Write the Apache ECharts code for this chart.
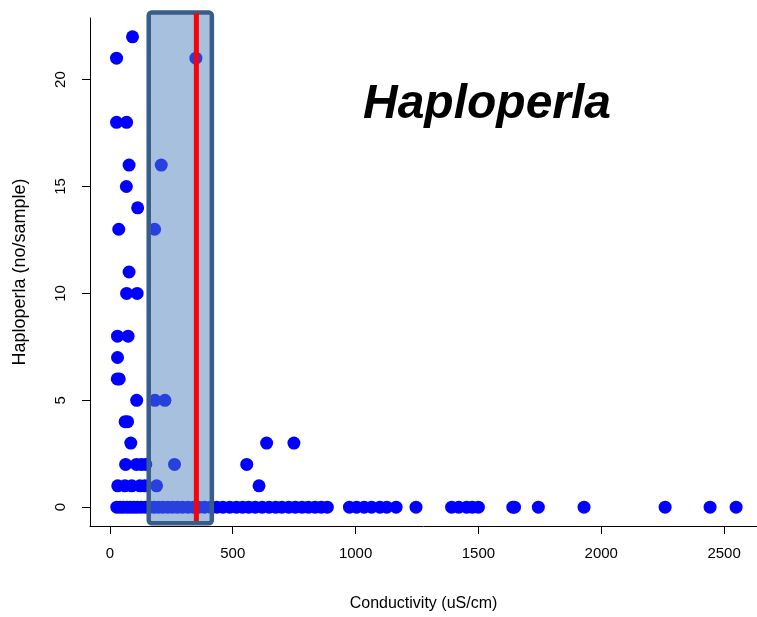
<!DOCTYPE html>
<html>
<head>
<meta charset="utf-8">
<script src="https://cdn.jsdelivr.net/npm/echarts@6/dist/echarts.min.js"></script>
<style>
  html, body { margin: 0; padding: 0; background: #fff; }
  #chart { width: 757px; height: 617px; }
</style>
</head>
<body>
<div id="chart"></div>
<script>
// conductivity (uS/cm) and Haploperla count per sample
var conductivity = [
  92,
  27, 350,
  27, 68,
  78, 209,
  67,
  113,
  36, 182,
  78,
  68, 111,
  31, 74,
  31,
  30, 38,
  109, 183, 224,
  62, 72,
  85, 638, 749,
  64, 108, 128, 146, 263, 557,
  32, 61, 89, 122, 142, 190, 607,
  // zero counts
  28, 42, 55, 70, 84, 98, 112, 128, 145, 162, 180, 198, 216, 236, 255, 275,
  295, 318, 340, 362, 385, 410, 435, 460, 488, 515, 540, 565, 592, 620, 648,
  675, 700, 728, 755, 782, 808, 835, 860, 885,
  975, 1004, 1035, 1065, 1099, 1127, 1165, 1246,
  1391, 1420, 1452, 1475, 1500, 1640, 1647, 1744, 1930, 2260, 2443, 2549
];
var counts = [
  22,
  21, 21,
  18, 18,
  16, 16,
  15,
  14,
  13, 13,
  11,
  10, 10,
  8, 8,
  7,
  6, 6,
  5, 5, 5,
  4, 4,
  3, 3, 3,
  2, 2, 2, 2, 2, 2,
  1, 1, 1, 1, 1, 1, 1,
  0, 0, 0, 0, 0, 0, 0, 0, 0, 0, 0, 0, 0, 0, 0, 0,
  0, 0, 0, 0, 0, 0, 0, 0, 0, 0, 0, 0, 0, 0, 0,
  0, 0, 0, 0, 0, 0, 0, 0, 0, 0,
  0, 0, 0, 0, 0, 0, 0, 0,
  0, 0, 0, 0, 0, 0, 0, 0, 0, 0, 0, 0
];
var xTicks = [0, 500, 1000, 1500, 2000, 2500];
var yTicks = [0, 5, 10, 15, 20];
// shaded range and the red marker
var rangeLow = 158, rangeHigh = 415;
var markerValue = 352;

var points = conductivity.map(function (c, i) { return [c, counts[i]]; });

var chart = echarts.init(document.getElementById('chart'));
var font = 'Liberation Sans, Arial, sans-serif';

var option = {
  animation: false,
  title: {
    text: 'Haploperla',
    left: 358,
    top: 76,
    textStyle: {
      fontFamily: font,
      fontSize: 48,
      fontWeight: 'bold',
      fontStyle: 'italic',
      color: '#000'
    }
  },
  grid: { left: 90, right: 0, top: 18, bottom: 90 },
  xAxis: {
    type: 'value',
    min: -81,
    max: 2634,
    name: 'Conductivity (uS/cm)',
    nameLocation: 'middle',
    nameGap: 70,
    nameTextStyle: { fontFamily: font, fontSize: 16, color: '#000' },
    axisLine: { onZero: false, lineStyle: { color: '#000', width: 1 } },
    axisTick: { show: true, length: 8, customValues: xTicks, lineStyle: { color: '#000' } },
    axisLabel: {
      customValues: xTicks, margin: 20, fontFamily: font, fontSize: 15, color: '#000',
      formatter: function (v) { return String(v); }
    },
    splitLine: { show: false }
  },
  yAxis: {
    type: 'value',
    min: -0.88,
    max: 22.88,
    name: 'Haploperla (no/sample)',
    nameLocation: 'middle',
    nameGap: 61,
    nameRotate: 90,
    nameTextStyle: { fontFamily: font, fontSize: 18, color: '#000' },
    axisLine: { show: true, onZero: false, lineStyle: { color: '#000', width: 1 } },
    axisTick: { show: true, length: 8, customValues: yTicks, lineStyle: { color: '#000' } },
    axisLabel: {
      customValues: yTicks, rotate: 90, margin: 22, fontFamily: font, fontSize: 15, color: '#000',
      formatter: function (v) { return String(v); }
    },
    splitLine: { show: false }
  },
  series: [
    {
      type: 'scatter',
      data: points,
      symbol: 'circle',
      symbolSize: 13,
      itemStyle: { color: '#0000ff', opacity: 1 },
      z: 2
    },
    {
      // shaded range drawn over the points
      type: 'custom',
      clip: false,
      silent: true,
      z: 5,
      data: [[rangeLow, rangeHigh, -0.75, 23.14]],
      renderItem: function (params, api) {
        var p1 = api.coord([api.value(0), api.value(3)]);
        var p2 = api.coord([api.value(1), api.value(2)]);
        return {
          type: 'rect',
          shape: { x: p1[0], y: p1[1], width: p2[0] - p1[0], height: p2[1] - p1[1], r: 3 },
          style: {
            fill: 'rgba(79,129,189,0.5)',
            stroke: '#385d8a',
            lineWidth: 4.5,
            lineJoin: 'round'
          }
        };
      }
    },
    {
      // red marker line
      type: 'custom',
      clip: false,
      silent: true,
      z: 6,
      data: [[markerValue, -0.65, 23.1]],
      renderItem: function (params, api) {
        var p1 = api.coord([api.value(0), api.value(1)]);
        var p2 = api.coord([api.value(0), api.value(2)]);
        return {
          type: 'line',
          shape: { x1: p1[0], y1: p1[1], x2: p2[0], y2: p2[1] },
          style: { stroke: '#ff0000', lineWidth: 5 }
        };
      }
    }
  ]
};

chart.setOption(option);
</script>
</body>
</html>
